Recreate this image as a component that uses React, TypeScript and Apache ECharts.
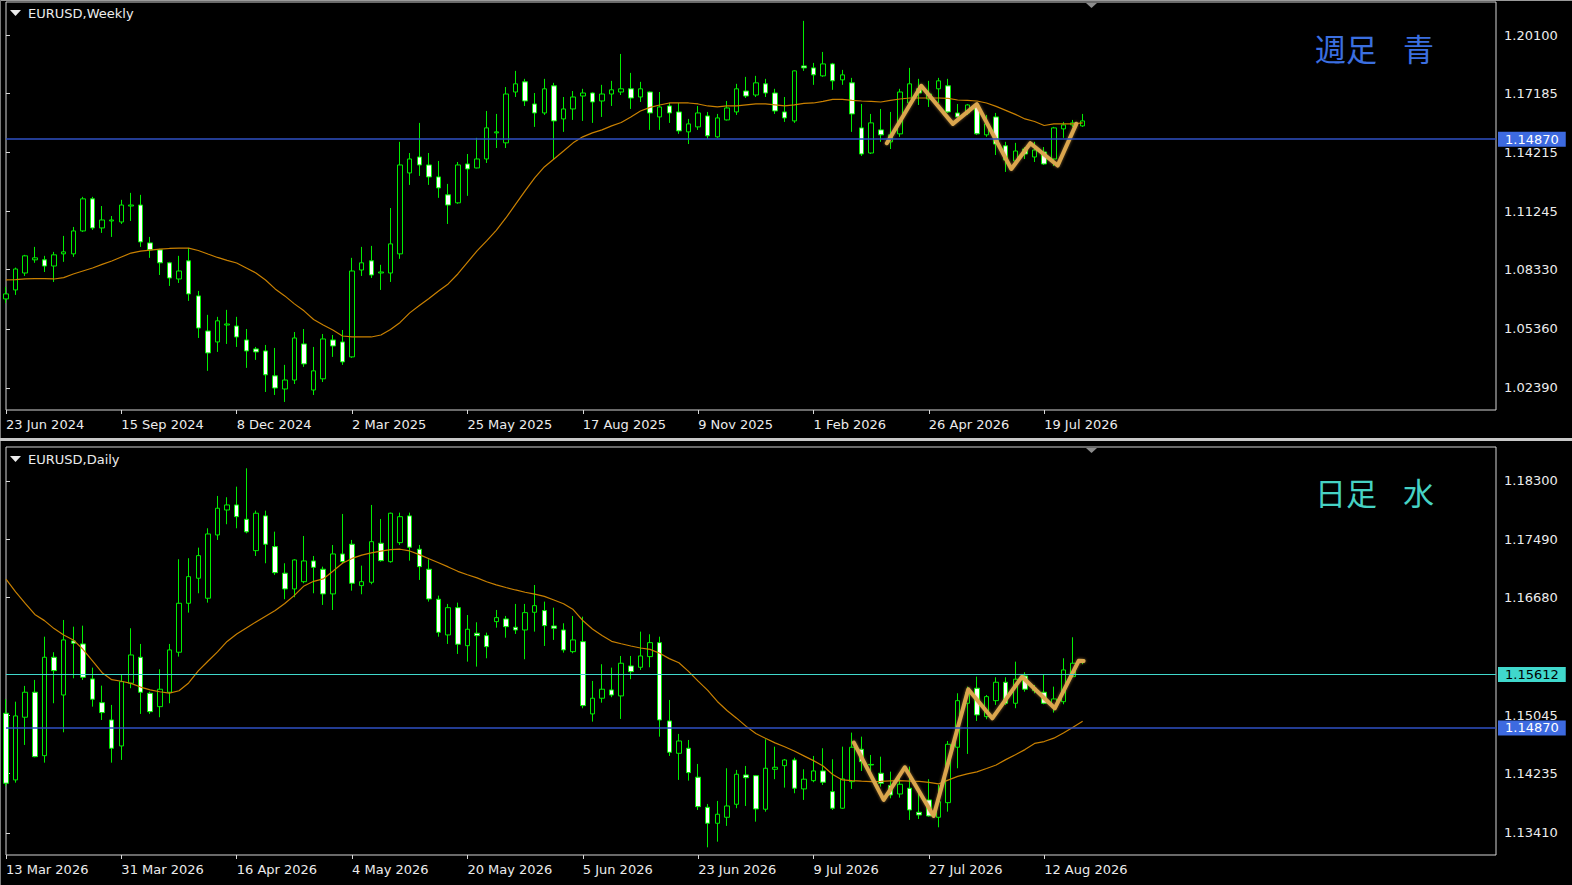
import React, { useEffect, useRef } from "react";
import * as echarts from "echarts";

// ---------- DATA ----------
const weeklyTickLabels = ["23 Jun 2024", "15 Sep 2024", "8 Dec 2024", "2 Mar 2025", "25 May 2025", "17 Aug 2025", "9 Nov 2025", "1 Feb 2026", "26 Apr 2026", "19 Jul 2026"];
const dailyTickLabels = ["13 Mar 2026", "31 Mar 2026", "16 Apr 2026", "4 May 2026", "20 May 2026", "5 Jun 2026", "23 Jun 2026", "9 Jul 2026", "27 Jul 2026", "12 Aug 2026"];
const weeklyPriceTicks = [1.0239, 1.0536, 1.0833, 1.11245, 1.14215, 1.17185, 1.201];
const dailyPriceTicks = [1.1341, 1.14235, 1.15045, 1.1668, 1.1749, 1.183];
const weeklyRange = [1.01286, 1.21756];
const dailyRange = [1.13104, 1.18772];
const blueLevel = 1.1487;
const aquaLevel = 1.15612;

// [open, close, low, high]
const weeklyOHLC = [
  [1.0686, 1.0711, 1.0666, 1.0746], [1.0731, 1.0836, 1.0706, 1.0843], [1.0816, 1.0902, 1.0801, 1.0907], [1.0882, 1.0892, 1.0867, 1.0947],
  [1.0882, 1.0851, 1.0821, 1.0902], [1.0851, 1.0907, 1.0771, 1.0922], [1.0912, 1.0922, 1.0872, 1.1002], [1.0912, 1.1027, 1.0897, 1.1047],
  [1.1027, 1.1188, 1.1022, 1.1198], [1.1188, 1.1042, 1.1032, 1.1198], [1.1042, 1.1082, 1.1017, 1.1152], [1.1077, 1.1082, 1.0997, 1.1102],
  [1.1072, 1.1157, 1.1062, 1.1183], [1.1152, 1.1157, 1.1077, 1.1218], [1.1157, 1.0972, 1.0947, 1.1208], [1.0967, 1.0932, 1.0892, 1.0997],
  [1.0932, 1.0867, 1.0806, 1.0937], [1.0867, 1.0791, 1.0751, 1.0872], [1.0786, 1.0826, 1.0766, 1.0902], [1.0877, 1.0711, 1.0676, 1.0942],
  [1.0701, 1.054, 1.049, 1.0726], [1.0525, 1.0415, 1.0325, 1.0606], [1.047, 1.0576, 1.042, 1.0596], [1.0555, 1.056, 1.046, 1.0631],
  [1.055, 1.0495, 1.0445, 1.0596], [1.048, 1.0425, 1.034, 1.0535], [1.0435, 1.042, 1.038, 1.0445], [1.0425, 1.0305, 1.0219, 1.0455],
  [1.03, 1.0239, 1.0204, 1.044], [1.0234, 1.0279, 1.0169, 1.0355], [1.0279, 1.049, 1.0259, 1.052], [1.046, 1.036, 1.0345, 1.0535],
  [1.0229, 1.0325, 1.0204, 1.0445], [1.0285, 1.0485, 1.0269, 1.051], [1.048, 1.045, 1.0395, 1.0505], [1.047, 1.037, 1.0355, 1.053],
  [1.0395, 1.0826, 1.039, 1.0892], [1.0831, 1.0867, 1.0801, 1.0947], [1.0877, 1.0806, 1.0791, 1.0952], [1.0816, 1.0821, 1.0731, 1.0857],
  [1.0816, 1.0962, 1.0771, 1.1142], [1.0912, 1.1358, 1.0887, 1.1474], [1.1318, 1.1388, 1.1258, 1.1418], [1.1398, 1.1358, 1.1303, 1.1569],
  [1.1358, 1.1298, 1.1258, 1.1418], [1.1298, 1.1243, 1.1193, 1.1378], [1.1208, 1.1157, 1.1062, 1.1263], [1.1168, 1.1358, 1.1163, 1.1373],
  [1.1363, 1.1338, 1.1203, 1.1413], [1.1343, 1.1388, 1.1341, 1.1494], [1.1388, 1.1544, 1.1368, 1.1629], [1.1519, 1.1524, 1.1443, 1.1614],
  [1.1469, 1.1714, 1.1443, 1.1749], [1.1724, 1.1765, 1.1699, 1.183], [1.1775, 1.1679, 1.1654, 1.179], [1.1664, 1.1619, 1.1549, 1.1719],
  [1.1619, 1.174, 1.1609, 1.179], [1.1755, 1.1579, 1.1383, 1.177], [1.1589, 1.1639, 1.1524, 1.1699], [1.1639, 1.1699, 1.1584, 1.1729],
  [1.1704, 1.1719, 1.1579, 1.174], [1.1719, 1.1674, 1.1569, 1.1722], [1.1679, 1.1714, 1.1599, 1.176], [1.1714, 1.1735, 1.1654, 1.178],
  [1.1724, 1.174, 1.1709, 1.1915], [1.174, 1.1694, 1.1639, 1.182], [1.1699, 1.174, 1.1674, 1.1775], [1.1724, 1.1619, 1.1534, 1.1727],
  [1.1599, 1.1649, 1.1534, 1.1724], [1.1654, 1.1619, 1.1569, 1.1669], [1.1624, 1.1529, 1.1514, 1.1669], [1.1524, 1.1564, 1.1463, 1.1589],
  [1.1549, 1.1619, 1.1534, 1.1654], [1.1604, 1.1504, 1.1489, 1.1624], [1.1499, 1.1594, 1.1494, 1.1614], [1.1584, 1.1644, 1.1581, 1.1679],
  [1.1624, 1.174, 1.1609, 1.1765], [1.1729, 1.1704, 1.1694, 1.18], [1.1709, 1.177, 1.1699, 1.1805], [1.1765, 1.1719, 1.1699, 1.179],
  [1.1719, 1.1629, 1.1614, 1.174], [1.1624, 1.1594, 1.1574, 1.1699], [1.1579, 1.183, 1.1569, 1.1832], [1.1855, 1.1845, 1.183, 1.2081],
  [1.1845, 1.181, 1.176, 1.187], [1.1805, 1.1865, 1.18, 1.1925], [1.1865, 1.178, 1.1735, 1.187], [1.1785, 1.181, 1.176, 1.1835],
  [1.177, 1.1614, 1.1524, 1.1795], [1.1544, 1.1413, 1.1403, 1.1664], [1.1418, 1.1569, 1.1413, 1.1614], [1.1534, 1.1509, 1.1474, 1.1639],
  [1.1474, 1.1509, 1.1438, 1.1624], [1.1514, 1.1724, 1.1499, 1.174], [1.1669, 1.1765, 1.1659, 1.1845], [1.174, 1.1719, 1.1659, 1.179],
  [1.1689, 1.1714, 1.1649, 1.178], [1.174, 1.178, 1.1669, 1.1795], [1.1755, 1.1624, 1.1619, 1.179], [1.1619, 1.1599, 1.1594, 1.1664],
  [1.1619, 1.1659, 1.1609, 1.1664], [1.1654, 1.1514, 1.1509, 1.1669], [1.1509, 1.1564, 1.1499, 1.1609], [1.1599, 1.1463, 1.1408, 1.1619],
  [1.1454, 1.1383, 1.1323, 1.1474], [1.1378, 1.1428, 1.1373, 1.1469], [1.1438, 1.1413, 1.1388, 1.1448], [1.1398, 1.1433, 1.1373, 1.1474],
  [1.1423, 1.1363, 1.1358, 1.1448], [1.1388, 1.1544, 1.1353, 1.1549], [1.1539, 1.1559, 1.1494, 1.1574], [1.1559, 1.1569, 1.1549, 1.1584],
  [1.1554, 1.1579, 1.1549, 1.1614],
];

const weeklyMA = [
  1.0781, 1.0783, 1.0786, 1.0788, 1.0788, 1.0786, 1.0793, 1.0811, 1.0826, 1.0841,
  1.0859, 1.0876, 1.0896, 1.0916, 1.0926, 1.0931, 1.0936, 1.0939, 1.0941, 1.0941,
  1.0929, 1.0911, 1.0894, 1.0879, 1.0866, 1.0841, 1.0816, 1.0781, 1.0736, 1.0701,
  1.0661, 1.0626, 1.0583, 1.0555, 1.053, 1.05, 1.0495, 1.0495, 1.0495, 1.0505,
  1.0533, 1.0568, 1.0616, 1.0653, 1.0688, 1.0726, 1.0761, 1.0811, 1.0869, 1.0927,
  1.0977, 1.103, 1.1092, 1.116, 1.1228, 1.1293, 1.1348, 1.1388, 1.1428, 1.1469,
  1.1499, 1.1519, 1.1534, 1.1554, 1.1571, 1.1599, 1.1629, 1.1647, 1.1659, 1.1669,
  1.1669, 1.1669, 1.1664, 1.1654, 1.1649, 1.1654, 1.1654, 1.1659, 1.1664, 1.1664,
  1.1659, 1.1654, 1.1659, 1.1667, 1.1669, 1.1677, 1.1687, 1.1687, 1.1682, 1.1679,
  1.1677, 1.1674, 1.1682, 1.1689, 1.1694, 1.1694, 1.1694, 1.1694, 1.1692, 1.1684,
  1.1682, 1.1679, 1.1669, 1.1652, 1.1632, 1.1612, 1.1589, 1.1576, 1.1556, 1.1564,
  1.1564, 1.1564, 1.1569,
];

// [bar position, price]
const weeklyZigzag = [
  [91.63, 1.1467], [95.21, 1.1755], [98.5, 1.1564], [101.0, 1.1663],
  [104.58, 1.1338], [106.56, 1.1467], [109.4, 1.1355], [111.34, 1.1564],
];

const dailyOHLC = [
  [1.15073, 1.14101, 1.14063, 1.15268], [1.14147, 1.15036, 1.14109, 1.15234], [1.15018, 1.15365, 1.14633, 1.15453], [1.15365, 1.1447, 1.14462, 1.15536],
  [1.14484, 1.15851, 1.14387, 1.16137], [1.15851, 1.15665, 1.15212, 1.15921], [1.15327, 1.16092, 1.14809, 1.16369], [1.16078, 1.16046, 1.15559, 1.16276],
  [1.16036, 1.15573, 1.15536, 1.1629], [1.1555, 1.15268, 1.15165, 1.15707], [1.1522, 1.15082, 1.1498, 1.15457], [1.1498, 1.14587, 1.14387, 1.15189],
  [1.14619, 1.15512, 1.14425, 1.15605], [1.1549, 1.15883, 1.15421, 1.16254], [1.15851, 1.15365, 1.15064, 1.16036], [1.15351, 1.15095, 1.15064, 1.15373],
  [1.15165, 1.15407, 1.15018, 1.15684], [1.15365, 1.15953, 1.15212, 1.16036], [1.15921, 1.16601, 1.1586, 1.17213], [1.16601, 1.16971, 1.16471, 1.17227],
  [1.16949, 1.17263, 1.1674, 1.17374], [1.16671, 1.17564, 1.1661, 1.17643], [1.1755, 1.17921, 1.17481, 1.18092], [1.17897, 1.17967, 1.17699, 1.18074],
  [1.17967, 1.17804, 1.17643, 1.18221], [1.17768, 1.17593, 1.17573, 1.18476], [1.17332, 1.17852, 1.17258, 1.17888], [1.17815, 1.17421, 1.17157, 1.17888],
  [1.17388, 1.17026, 1.16995, 1.17596], [1.17019, 1.168, 1.16657, 1.17157], [1.168, 1.17203, 1.16685, 1.17213], [1.16901, 1.17189, 1.16879, 1.17536],
  [1.17189, 1.17101, 1.1674, 1.17258], [1.17074, 1.16731, 1.16578, 1.1711], [1.16731, 1.17286, 1.16508, 1.17411], [1.17286, 1.17179, 1.17147, 1.17842],
  [1.17421, 1.16879, 1.16776, 1.17481], [1.16846, 1.16901, 1.16726, 1.17124], [1.16893, 1.17457, 1.16865, 1.17967], [1.17435, 1.17193, 1.17179, 1.17772],
  [1.17179, 1.17852, 1.17165, 1.1786], [1.17443, 1.17804, 1.17411, 1.1786], [1.17815, 1.1738, 1.17193, 1.1786], [1.17352, 1.1711, 1.16925, 1.17411],
  [1.17074, 1.16661, 1.16624, 1.17213], [1.16657, 1.16198, 1.16137, 1.16707], [1.16161, 1.1654, 1.16036, 1.16592], [1.1654, 1.16032, 1.15897, 1.1661],
  [1.16012, 1.1624, 1.1579, 1.16438], [1.16185, 1.16151, 1.15721, 1.16337], [1.16151, 1.15998, 1.15837, 1.16193], [1.16346, 1.16401, 1.16262, 1.16508],
  [1.16383, 1.16276, 1.16123, 1.16425], [1.16268, 1.1623, 1.16175, 1.16592], [1.1623, 1.16471, 1.15823, 1.16592], [1.16476, 1.16568, 1.16207, 1.16855],
  [1.16499, 1.1629, 1.16008, 1.16624], [1.16286, 1.16254, 1.16092, 1.1654], [1.1623, 1.15953, 1.15915, 1.16323], [1.15929, 1.16092, 1.15907, 1.16425],
  [1.16068, 1.15179, 1.15143, 1.16415], [1.15064, 1.15282, 1.14957, 1.15522], [1.15282, 1.15407, 1.1522, 1.15754], [1.15397, 1.15327, 1.15296, 1.15707],
  [1.15314, 1.15768, 1.14994, 1.15869], [1.1573, 1.15651, 1.15546, 1.15869], [1.15712, 1.15869, 1.15675, 1.16207], [1.1586, 1.16054, 1.15712, 1.1617],
  [1.16054, 1.1498, 1.14748, 1.16137], [1.14966, 1.14531, 1.1448, 1.15258], [1.14517, 1.14688, 1.14147, 1.14786], [1.14587, 1.14248, 1.14137, 1.14702],
  [1.14185, 1.13776, 1.1373, 1.14369], [1.13767, 1.13545, 1.13211, 1.13813], [1.13545, 1.1367, 1.13289, 1.13855], [1.13628, 1.13785, 1.13508, 1.14309],
  [1.13809, 1.14226, 1.13754, 1.14286], [1.14216, 1.14178, 1.13785, 1.14341], [1.14206, 1.13744, 1.13567, 1.14216], [1.1374, 1.14309, 1.13706, 1.14712],
  [1.14295, 1.14323, 1.14157, 1.14609], [1.14345, 1.14424, 1.1404, 1.14438], [1.14424, 1.14032, 1.13962, 1.14456], [1.14022, 1.14157, 1.13869, 1.14295],
  [1.14137, 1.14272, 1.14115, 1.1448], [1.14272, 1.14115, 1.14077, 1.14587], [1.13984, 1.13754, 1.1373, 1.14434], [1.13754, 1.14161, 1.13744, 1.14609],
  [1.14123, 1.14601, 1.14022, 1.14804], [1.14573, 1.14401, 1.14272, 1.14748], [1.14362, 1.14355, 1.14216, 1.14494], [1.1424, 1.14101, 1.14054, 1.1447],
  [1.14068, 1.13938, 1.13892, 1.14262], [1.13952, 1.14087, 1.13901, 1.14216], [1.14032, 1.1373, 1.13591, 1.14332], [1.13698, 1.1366, 1.13605, 1.14032],
  [1.13869, 1.13647, 1.13637, 1.14157], [1.13628, 1.13845, 1.13489, 1.14077], [1.13831, 1.14642, 1.13706, 1.14688], [1.14601, 1.15248, 1.14309, 1.15351],
  [1.15212, 1.15359, 1.14508, 1.15443], [1.15421, 1.1505, 1.14966, 1.15582], [1.15026, 1.15304, 1.1499, 1.15327], [1.15248, 1.15504, 1.15189, 1.15573],
  [1.15504, 1.15212, 1.15189, 1.15573], [1.15212, 1.15546, 1.15143, 1.1579], [1.15591, 1.15407, 1.15373, 1.15643], [1.15387, 1.15421, 1.15351, 1.15466],
  [1.15365, 1.15212, 1.15198, 1.15605], [1.15165, 1.15272, 1.15082, 1.15443], [1.15234, 1.15675, 1.15198, 1.15837], [1.15582, 1.15768, 1.15573, 1.16129],
  [1.15786, 1.15814, 1.15755, 1.15823],
];

const dailyMA = [
  1.16935, 1.16758, 1.16599, 1.16446, 1.1636, 1.16249, 1.16161, 1.16092, 1.15962, 1.158,
  1.15637, 1.1554, 1.15518, 1.15489, 1.15437, 1.15397, 1.15372, 1.15353, 1.15386, 1.15494,
  1.15661, 1.15796, 1.15925, 1.16071, 1.16175, 1.16258, 1.16342, 1.16422, 1.165, 1.16597,
  1.16711, 1.16842, 1.16906, 1.16939, 1.17046, 1.17157, 1.17224, 1.1727, 1.173, 1.17325,
  1.17347, 1.17352, 1.17328, 1.17277, 1.1722, 1.17163, 1.17106, 1.17045, 1.16997, 1.16954,
  1.169, 1.16857, 1.1682, 1.16786, 1.16754, 1.16729, 1.16696, 1.16647, 1.16594, 1.16513,
  1.16362, 1.16244, 1.16153, 1.16072, 1.16039, 1.16007, 1.1598, 1.15961, 1.15907, 1.15832,
  1.15775, 1.15655, 1.15519, 1.15391, 1.15237, 1.15111, 1.15005, 1.14891, 1.14793, 1.14725,
  1.14662, 1.14607, 1.14548, 1.14481, 1.14415, 1.1434, 1.14223, 1.14147, 1.14138, 1.1413,
  1.14124, 1.14128, 1.14133, 1.14137, 1.14131, 1.14126, 1.14113, 1.14091, 1.14144, 1.14197,
  1.1423, 1.14258, 1.14305, 1.14354, 1.14429, 1.14497, 1.14568, 1.14654, 1.1468, 1.14727,
  1.14798, 1.1488, 1.14961,
];

const dailyZigzag = [
  [88.2, 1.14665], [91.3, 1.13869], [93.5, 1.14323], [96.5, 1.13646], [100.1, 1.15406],
  [102.6, 1.15003], [105.7, 1.15581], [109.1, 1.15142], [111.6, 1.15804], [112.1, 1.158],
];

// ---------- STYLE ----------
const SLOTS = 156;
const slotKeys = Array.from({ length: SLOTS }, (_, i) => String(i));
const FONT = "DejaVu Sans";
const TXT = "#ececec";
const GREEN = "#00ee00";
const MA_COLOR = "#c98000";
const ZZ_COLOR = "#dba64e";
const BLUE_LINE = "#2f50c4";
const BLUE_TAG = "#3d6ae0";
const AQUA = "#40d8cc";

const tickShown = (i: number) => i % 12 === 0 && i <= 108;

function catAxis(gridIndex: number, labels: string[]) {
  return {
    type: "category",
    gridIndex,
    data: slotKeys,
    boundaryGap: false,
    axisLine: { show: false },
    axisTick: { show: true, interval: tickShown, length: 4, lineStyle: { color: "#d8d8d8" } },
    axisLabel: {
      interval: tickShown,
      formatter: (v: string) => labels[Number(v) / 12] ?? "",
      color: TXT,
      fontFamily: FONT,
      fontSize: 13,
      align: "left",
      margin: 8,
    },
    splitLine: { show: false },
  };
}

function valAxisX(gridIndex: number) {
  return { type: "value", gridIndex, min: 0, max: SLOTS - 1, show: false };
}

function priceAxis(gridIndex: number, range: number[], ticks: number[]) {
  return {
    type: "value",
    gridIndex,
    position: "right",
    min: range[0],
    max: range[1],
    axisLine: { show: false },
    splitLine: { show: false },
    axisTick: { show: true, length: 4, lineStyle: { color: "#d8d8d8" }, customValues: ticks },
    axisLabel: {
      customValues: ticks,
      formatter: (v: number) => v.toFixed(5),
      color: TXT,
      fontFamily: FONT,
      fontSize: 13,
      margin: 8,
    },
  };
}

function levelLine(value: number, line: string, tag: string, textColor: string, width: number) {
  return {
    yAxis: value,
    lineStyle: { color: line, width, type: "solid" },
    label: {
      show: true,
      position: "end",
      formatter: value.toFixed(5),
      backgroundColor: tag,
      color: textColor,
      fontFamily: FONT,
      fontSize: 13,
      lineHeight: 14,
      padding: [1, 7, 0, 7],
      distance: 2,
    },
  };
}

function candleSeries(xi: number, yi: number, data: number[][], levels: any[]) {
  return {
    type: "candlestick",
    xAxisIndex: xi,
    yAxisIndex: yi,
    data,
    barWidth: 5,
    itemStyle: { color: "#000", color0: "#fff", borderColor: GREEN, borderColor0: GREEN, borderWidth: 1 },
    markLine: { silent: true, precision: 5, symbol: ["none", "none"], animation: false, data: levels },
    z: 2,
  };
}

function maSeries(xi: number, yi: number, data: number[]) {
  return {
    type: "line",
    xAxisIndex: xi,
    yAxisIndex: yi,
    data,
    symbol: "none",
    lineStyle: { color: MA_COLOR, width: 1.2 },
    z: 3,
  };
}

function zigzagSeries(xi: number, yi: number, data: number[][]) {
  return {
    type: "line",
    xAxisIndex: xi,
    yAxisIndex: yi,
    data,
    symbol: "none",
    lineStyle: { color: ZZ_COLOR, width: 4, cap: "round", join: "round", shadowColor: "rgba(219,166,78,0.6)", shadowBlur: 3 },
    z: 4,
  };
}

function cornerNote(text: string, y: number, fill: string) {
  return {
    type: "text",
    z: 50,
    style: {
      text: `${text.slice(0, 2)}{g|　}${text.slice(2)}`,
      x: 1315,
      y,
      fill,
      font: "31px 'Noto Sans CJK JP'",
      textAlign: "left",
      textVerticalAlign: "middle",
      align: "left",
      verticalAlign: "middle",
      rich: { g: { width: 26, fontSize: 31, fontFamily: "Noto Sans CJK JP" } },
    },
  };
}

const option: any = {
  animation: false,
  backgroundColor: "#000",
  grid: [
    { left: 6, right: 76, top: 2, height: 408, show: true, borderColor: "#d4d4d4", borderWidth: 1, backgroundColor: "#000" },
    { left: 6, right: 76, top: 447, height: 408, show: true, borderColor: "#d4d4d4", borderWidth: 1, backgroundColor: "#000" },
  ],
  xAxis: [catAxis(0, weeklyTickLabels), valAxisX(0), catAxis(1, dailyTickLabels), valAxisX(1)],
  yAxis: [priceAxis(0, weeklyRange, weeklyPriceTicks), priceAxis(1, dailyRange, dailyPriceTicks)],
  series: [
    candleSeries(0, 0, weeklyOHLC, [levelLine(blueLevel, BLUE_LINE, BLUE_TAG, "#ffffff", 1.5)]),
    maSeries(0, 0, weeklyMA),
    zigzagSeries(1, 0, weeklyZigzag),
    candleSeries(2, 1, dailyOHLC, [
      levelLine(aquaLevel, AQUA, AQUA, "#000000", 1),
      levelLine(blueLevel, BLUE_LINE, BLUE_TAG, "#ffffff", 1.5),
    ]),
    maSeries(2, 1, dailyMA),
    zigzagSeries(3, 1, dailyZigzag),
  ],
  graphic: [
    { type: "rect", z: 50, shape: { x: 0, y: 0, width: 1572, height: 1 }, style: { fill: "#9a9a9a" } },
    { type: "rect", z: 50, shape: { x: 0, y: 0, width: 1, height: 885 }, style: { fill: "#7a7a7a" } },
    { type: "rect", z: 50, shape: { x: 0, y: 438, width: 1572, height: 3 }, style: { fill: "#c8c8c8" } },
    { type: "polygon", z: 50, shape: { points: [[10, 10], [21, 10], [15.5, 16]] }, style: { fill: TXT } },
    { type: "text", z: 50, style: { text: "EURUSD,Weekly", x: 28, y: 13, fill: TXT, font: `13px '${FONT}'`, textAlign: "left", textVerticalAlign: "middle", align: "left", verticalAlign: "middle" } },
    { type: "polygon", z: 50, shape: { points: [[10, 456], [21, 456], [15.5, 462]] }, style: { fill: TXT } },
    { type: "text", z: 50, style: { text: "EURUSD,Daily", x: 28, y: 459, fill: TXT, font: `13px '${FONT}'`, textAlign: "left", textVerticalAlign: "middle", align: "left", verticalAlign: "middle" } },
    { type: "polygon", z: 50, shape: { points: [[1086, 3], [1097, 3], [1091.5, 8]] }, style: { fill: "#8c8c8c" } },
    { type: "polygon", z: 50, shape: { points: [[1086, 448], [1097, 448], [1091.5, 453]] }, style: { fill: "#8c8c8c" } },
    cornerNote("週足青", 47, "#3b6fe0"),
    cornerNote("日足水", 491, "#46d2c4"),
  ],
};

export default function App() {
  const ref = useRef<HTMLDivElement>(null);
  useEffect(() => {
    document.body.style.margin = "0";
    document.body.style.background = "#000";
    const chart = echarts.init(ref.current!, null, { renderer: "svg" });
    chart.setOption(option);
    return () => chart.dispose();
  }, []);
  return <div ref={ref} style={{ width: 1572, height: 885, background: "#000" }} />;
}
